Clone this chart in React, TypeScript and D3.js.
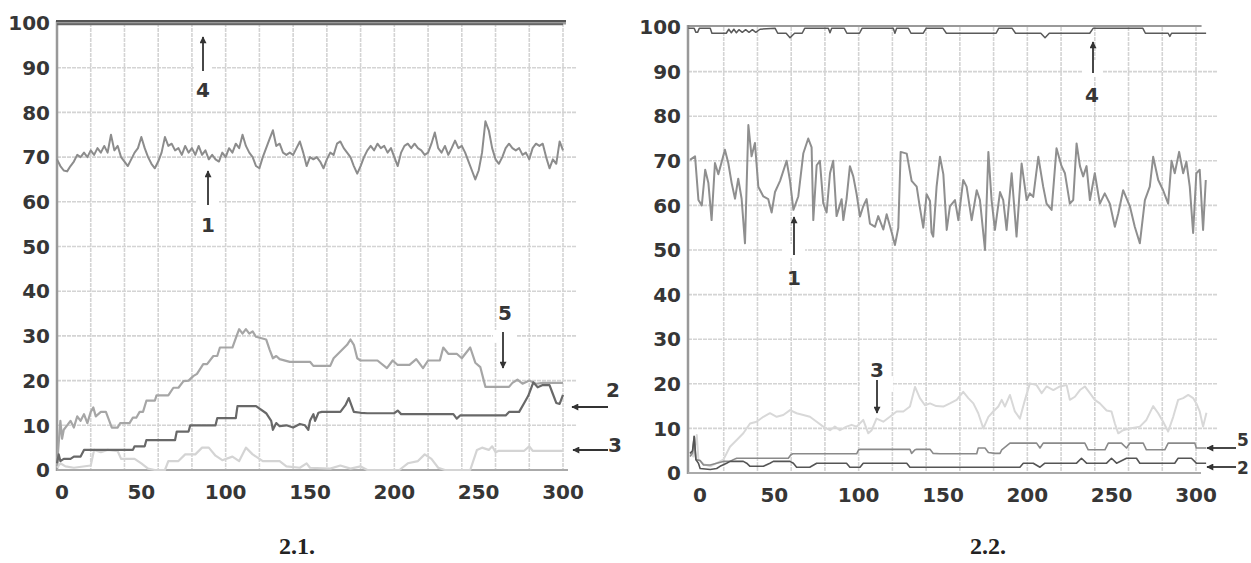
import React from 'react';
import * as d3 from 'd3';

// ---------- Panel 2.1 data ----------
const L1_T = d3.range(0, 301, 2);
const L1_V = [
  69.5, 68, 67, 66.8, 68, 69, 70.5, 70, 71, 70, 71.5, 70.5, 72, 71, 72.5, 71, 75, 71.5, 72.5, 70,
  69, 68, 69.5, 71, 72, 74.5, 72, 70, 68.5, 67.5, 69, 71, 74.5, 72.5, 73, 71.5, 72, 70.5, 72.5, 71,
  72, 70.5, 72.5, 70.5, 71.5, 69.5, 70.5, 69.5, 69, 71, 70, 72, 71, 73, 72, 75, 72.5, 71, 70, 68,
  67.5, 70, 72, 74, 76, 72.5, 73, 71, 70.5, 71, 70.5, 72, 73.5, 71, 68, 70, 69.5, 70, 69, 67.5,
  69.5, 71, 70.5, 73, 73.5, 72, 71, 70, 68, 66.3, 68, 70, 71.5, 72.5, 71.5, 73, 72, 72.5, 71, 72,
  70, 68, 71, 72.5, 73, 72, 73, 72, 71.5, 70.5, 71, 73, 75.5, 72, 71, 72.5, 70.5, 72, 73.7, 72,
  72.5, 71, 69, 67, 65, 67, 71, 78, 76, 72, 69.5, 68.5, 70, 72, 73, 72, 71.5, 72, 70.5, 71,
  69.5, 72, 73, 72.5, 73, 70, 67.5, 69.5, 68.5, 73.5, 71.5,
];

const L5_T = [0, 1, 2, 3, 4, 6, 8, 10, 12, 14, 16, 18, 20, 21.5, 23, 26, 29, 31, 32.5, 36, 37.5, 43, 45, 47, 49, 51, 53, 58, 59, 66, 69, 72, 75, 78, 80.8, 83, 86.7, 89, 92.7, 95, 96.6, 104, 106.5, 108, 110, 112, 114, 116, 118, 124, 126, 128, 130, 132, 138, 150, 152, 162, 164, 168, 172, 174, 176, 178, 180, 190, 195.6, 199, 202, 209, 213, 217, 220, 227, 229, 232, 237, 240, 245, 248, 251, 254, 268, 270, 273, 276, 280, 284, 288, 300];
const L5_V = [1, 6, 11, 7, 9, 10, 11, 9.5, 12, 11, 12.5, 10.5, 13, 14, 12, 13, 13, 11, 9.5, 9.5, 10.5, 10.5, 11.7, 11.7, 13, 13, 15.5, 15.5, 16.7, 16.7, 18.4, 18.4, 19.9, 20, 21, 21.5, 23.7, 23.7, 25.5, 25.5, 27.4, 27.4, 30, 31.5, 30.5, 31.5, 30.5, 31, 29.8, 29.2, 27, 25, 25.5, 24.8, 24.2, 24.2, 23.3, 23.3, 25, 26.5, 28, 29.2, 28, 25, 24.5, 24.5, 22.8, 24.5, 23.5, 23.5, 24.8, 22.8, 24.5, 24.5, 27.4, 26, 26, 25, 27.4, 24, 23, 18.6, 18.6, 19.5, 20.2, 19.3, 20, 19.3, 19.5, 19.5];

const L2_T = [0, 1, 2, 4, 8, 10, 14, 16, 45, 46, 52, 53, 70, 71, 78, 79, 94, 95, 106, 107, 118, 124, 127, 128, 130, 132, 136, 140, 144, 147, 149, 150, 152, 153, 155, 157, 168, 171, 173, 176, 180, 184, 200, 202, 204, 235, 237, 239, 266, 268, 274, 277, 279.4, 282.4, 285, 288, 292, 294, 296, 298, 300];
const L2_V = [1.5, 3.5, 2, 2.5, 2.5, 3, 3, 4.5, 4.5, 5.3, 5.3, 6.7, 6.7, 8.6, 8.6, 10, 10, 11.6, 11.6, 14.3, 14.3, 12.7, 11, 9, 10.5, 9.8, 10, 9.5, 10.3, 10, 9, 11, 12.5, 11, 12.8, 13, 13, 14.5, 16.1, 13, 12.8, 12.7, 12.7, 13.3, 12.5, 12.5, 11.5, 12.2, 12.2, 13, 13, 15, 16.6, 19.6, 18.5, 19, 19, 17, 15, 14.8, 16.8];

const L3_T = [0, 2, 5, 10, 20, 22, 26, 30, 36, 38, 46, 50, 54, 58, 64, 66, 72, 76, 82, 86, 90, 94, 98, 104, 108, 112, 116, 122, 132, 136, 144, 148, 150, 162, 168, 174, 180, 184, 203, 208, 214, 218, 222, 226, 230, 245, 249, 252, 256, 258, 260, 262, 277, 280, 282, 300];
const L3_V = [0.5, 1.5, 0.8, 0.5, 1, 4.5, 4, 4.5, 4.2, 2.5, 2.5, 1.5, 0.3, 0, 0, 2, 2, 3.5, 3.5, 5, 5, 3.2, 2.2, 3, 2, 5, 3.5, 2, 2, 0.8, 0.5, 1.5, 0.5, 0.3, 1, 0.3, 0.8, 0, 0, 1.5, 2, 3.5, 2.5, 0.5, 0, 0, 4.5, 5, 4.5, 5.3, 4, 4.3, 4.3, 5.3, 4.3, 4.3];

const L4_T = [0, 300];
const L4_V = [99.7, 99.7];

// ---------- Panel 2.2 data ----------
const R1_T = [0, 3, 5, 7, 9, 10.9, 12.8, 14.8, 16.8, 20.7, 22.7, 24.7, 26.7, 28.6, 30.6, 32.6, 34.6, 36.5, 38.5, 40.5, 43.5, 46.4, 48.4, 50.4, 53.4, 57.3, 59.3, 61.3, 64.2, 67.2, 70.1, 72.1, 73.1, 75.1, 77, 79, 81, 83, 84.9, 86.9, 89.9, 90.9, 92.8, 94.8, 96.8, 98.8, 100.8, 102.7, 104.7, 106.7, 109.7, 111.6, 114.6, 116.6, 119.6, 121.5, 123.5, 124.9, 128.5, 131.4, 134.4, 136.3, 138.3, 140.3, 142.3, 143.2, 144.2, 146.2, 148.2, 150.2, 152.2, 154.1, 157.1, 159.1, 162, 164, 167, 170, 171.9, 174.9, 176.9, 178.8, 180.8, 183.8, 185.7, 187.7, 190.7, 193.6, 196.6, 199.6, 201.5, 203.5, 206.5, 209.4, 211.4, 214.4, 217.3, 220.3, 222.3, 225.2, 227.2, 229.2, 231.2, 233.1, 235.1, 237.1, 240, 243, 245.9, 248.9, 251.9, 253.9, 256.8, 260.8, 263.7, 266.7, 269.7, 272.6, 274.6, 277.6, 280.5, 283.5, 285.5, 287.4, 290, 292.4, 294.3, 296.3, 298.3, 300.2, 302.2, 304.2, 305.8];
const R1_V = [70.2, 71, 61.2, 60, 68, 65, 56.7, 69.5, 67, 72.5, 69.5, 65, 61.5, 66, 61.5, 51.5, 78, 71, 74, 64.2, 62, 61.4, 58.4, 63, 65.5, 70, 65.5, 59, 62, 71.7, 75, 73, 56.7, 69, 70, 60.5, 58.4, 67.2, 70, 57.6, 61.4, 56.7, 61.4, 68.8, 66.5, 62.5, 57.5, 59.8, 61.4, 55.9, 55.2, 57.6, 54.6, 58, 53.9, 51.1, 55, 72, 71.6, 65.5, 64.2, 59.5, 55, 62.5, 61, 53.9, 53, 64.2, 70.9, 67, 54.5, 59.8, 61.2, 56.7, 65.7, 64.2, 56.7, 63.4, 61.2, 50, 72, 61.2, 54.5, 63, 61.2, 54.5, 67.2, 53, 69.4, 61.2, 62.7, 61.9, 70.9, 64.2, 60.4, 59, 72.8, 68.8, 67.2, 60.4, 61.2, 73.9, 68.8, 66.5, 68.8, 61.2, 67.2, 60.4, 62.7, 60.4, 55.2, 58.2, 63.4, 59.8, 55.2, 51.5, 61.2, 64.2, 70.9, 65.7, 63.4, 60.4, 70, 67.2, 72, 67.2, 69.8, 64.2, 53.8, 67.2, 68, 54.5, 65.7];

const R3_T = [0, 2, 4, 5, 8, 12, 15.8, 19.8, 23.7, 27.7, 31.6, 35.6, 39.5, 43.5, 47.4, 51.4, 55.3, 59.3, 63.2, 67.2, 71.1, 75.1, 79, 83, 85.9, 88.9, 92.8, 95.8, 98.8, 102.7, 105.7, 107.7, 110.6, 114.6, 118.5, 122.5, 126.5, 130.4, 133.4, 136.3, 139.3, 142.3, 146, 150.2, 154.1, 158.1, 162, 165, 168, 170.9, 173.9, 176.9, 179.8, 182.8, 184.8, 186.7, 189.7, 192.6, 195.6, 198.6, 201.5, 205.5, 208.5, 211.4, 215.4, 219.3, 223.3, 225.2, 228.2, 231.2, 234.1, 237.1, 240, 243, 247, 249.9, 251.9, 253.9, 256.8, 260.8, 266.7, 270.6, 274.6, 277.6, 280.5, 283.5, 286.5, 289.4, 292.4, 295.4, 298.3, 300.2, 302.2, 304.2, 306.2];
const R3_V = [4.5, 3.7, 8.5, 3, 2, 1.5, 2.2, 3, 5.9, 7.4, 8.9, 11.1, 11.5, 12.6, 13.4, 12.6, 13, 14.1, 13.4, 13, 12.6, 11.5, 10.4, 9.6, 10.4, 9.6, 10.4, 10.8, 10.4, 11.9, 8.9, 9.6, 12.2, 11.5, 12.6, 13.8, 13.8, 14.9, 19.3, 16.8, 15.2, 15.6, 15, 14.9, 15.6, 16.4, 18.2, 16.8, 15.6, 13.4, 10, 12.6, 13.8, 14.9, 16.4, 14.9, 17.5, 13.8, 12.2, 16.4, 20.1, 19.7, 17.9, 19.4, 18.6, 19.4, 19.7, 16.4, 17.1, 18.6, 19.4, 17.9, 16.4, 15.6, 14, 13.8, 11.1, 8.9, 9.6, 10, 10.4, 11.9, 15, 13.4, 11.5, 9.3, 12.6, 16.4, 16.8, 17.5, 16.8, 15.6, 13.8, 10.4, 13.5];

const R5_T = [0, 1.5, 2.5, 3.5, 6, 8, 12, 15.8, 19.8, 23.7, 25.7, 27.7, 58.3, 59.8, 61, 98.8, 100, 101, 130.4, 131.4, 133.4, 134.4, 142.3, 144.2, 148.2, 170, 170.9, 174.9, 176.9, 180.8, 183.8, 184.8, 189.7, 205.5, 207.5, 209.4, 234.1, 236.1, 246, 248, 255.8, 258.8, 260.8, 268.7, 270.6, 281.5, 283.5, 299.3, 300.2, 306];
const R5_V = [3.7, 4.5, 8.2, 3, 2.8, 1.8, 1.8, 2.2, 2.6, 2.6, 3, 3.3, 3.3, 4.1, 4.3, 4.3, 5.2, 5.3, 5.3, 4.4, 5.2, 5.3, 5.3, 4.4, 4.3, 4.3, 5.6, 5.6, 4.6, 4.4, 4.4, 5.2, 6.7, 6.7, 5.6, 6.7, 6.7, 5.2, 5.2, 6.7, 6.7, 5.6, 6.7, 6.7, 5.2, 5.2, 6.7, 6.7, 5.6, 5.6];

const R2_T = [0, 1.5, 2.5, 3.5, 5, 6, 12, 15.8, 17.8, 21.7, 23.7, 31.6, 33.6, 35.6, 43.5, 47.4, 49.4, 59.3, 61.3, 63.2, 71, 75.1, 92.8, 94.8, 100.8, 102.7, 128.5, 130.4, 195.6, 197.6, 203.5, 207.5, 210.4, 229.2, 232.1, 235.1, 247, 249.9, 252.9, 258.8, 264.7, 266.7, 287.4, 289.4, 297.3, 300.2, 306];
const R2_V = [4.4, 5, 8.2, 3, 2.2, 1, 0.8, 1, 1.5, 2.2, 2.6, 2.6, 2.2, 1.5, 1.5, 2.2, 2.6, 2.6, 2.2, 1.3, 1.3, 2.2, 2.2, 1.3, 1.3, 2.2, 2.2, 1.3, 1.3, 2.2, 2.2, 1.3, 2.2, 2.2, 3.3, 2.2, 2.2, 3.3, 2.2, 3.3, 3.3, 2.2, 2.2, 3.3, 3.3, 2.2, 2.2];

const R4_T = [-1, 2.5, 3.5, 4.5, 5.5, 12, 13, 21.5, 23, 24.5, 26, 27.5, 29, 31, 33, 35, 37, 39, 41.5, 50.5, 52, 57, 59.3, 62, 66.5, 68, 82, 83, 84, 91.5, 93, 100.5, 102, 120.5, 121.5, 122.5, 129.5, 131, 138.3, 140, 150, 152, 181.5, 183, 191, 193, 208, 210.5, 213, 237, 239, 268.5, 270, 283.5, 284.5, 285.5, 306];
const R4_V = [99.7, 99.7, 98.8, 98.8, 99.7, 99.7, 98.6, 98.6, 99.5, 98.7, 99.5, 98.7, 99.4, 98.8, 99.4, 98.8, 99.4, 98.8, 99.5, 99.7, 98.6, 98.6, 97.6, 98.6, 98.6, 99.7, 99.7, 98.7, 99.7, 99.7, 98.6, 98.6, 99.7, 99.7, 98.6, 99.7, 99.7, 98.6, 98.6, 99.7, 99.7, 98.6, 98.6, 99.7, 99.7, 98.6, 98.6, 97.6, 98.6, 98.6, 99.7, 99.7, 98.6, 98.6, 97.9, 98.6, 98.6];
const R4TOP_T = [-1, 303.3];
const R4TOP_V = [100.2, 100.2];

const CAPTIONS = ['2.1.', '2.2.'];

type Pt = [number, number];
const zip = (t: number[], v: number[]): Pt[] => t.map((x, i) => [x, v[i]]);

const FONT = "'DejaVu Sans', Verdana, sans-serif";
const SERIF = "'Liberation Serif', 'Times New Roman', serif";

interface SeriesDef { pts: Pt[]; color: string; width: number }
interface Ann { label: string; x1: number; y1: number; x2: number; y2: number; tx: number; ty: number; anchor?: string; size?: number; mask?: [number, number, number, number] }

interface PanelProps {
  x0: number; x300: number; yTop: number; yBot: number;
  axisX: number; gridRight: number;
  series: SeriesDef[];
  zeroDx: number;
  anns: Ann[];
  topFrame: React.ReactNode;
}

function Panel(p: PanelProps) {
  const x = d3.scaleLinear().domain([0, 300]).range([p.x0, p.x300]);
  const y = d3.scaleLinear().domain([0, 100]).range([p.yBot, p.yTop]);
  const line = d3.line<Pt>().x(d => x(d[0])).y(d => y(d[1]));
  const grid = x.ticks(12).filter(v => v > 0);
  const yt = y.ticks(10);
  const xt = x.ticks(6);
  return (
    <g>
      {yt.filter(v => v > 0 && v < 100).map(v => (
        <line key={'h' + v} x1={p.axisX} x2={p.gridRight} y1={y(v)} y2={y(v)} stroke="#d4d4d4" strokeWidth={1.6} strokeDasharray="4 1" />
      ))}
      {grid.map(v => (
        <line key={'v' + v} x1={x(v)} x2={x(v)} y1={y(100)} y2={y(0)} stroke="#d4d4d4" strokeWidth={1.6} strokeDasharray="4 1" />
      ))}
      {p.anns.filter(a => a.mask).map((a, i) => (
        <rect key={'m' + i} x={a.mask![0]} y={a.mask![1]} width={a.mask![2]} height={a.mask![3]} fill="#fff" />
      ))}
      <line x1={p.axisX} x2={p.axisX} y1={y(100) - 2} y2={y(0) + 1} stroke="#999" strokeWidth={2.5} />
      <line x1={p.axisX} x2={p.x300 + 5} y1={y(0)} y2={y(0)} stroke="#aaa" strokeWidth={2} />
      {p.topFrame}
      {p.series.map((s, i) => (
        <path key={'s' + i} d={line(s.pts) || ''} fill="none" stroke={s.color} strokeWidth={s.width} strokeLinejoin="round" />
      ))}
      {yt.map(v => (
        <text key={'yl' + v} x={p.axisX - 7} y={y(v)} dy="0.36em" textAnchor="end" fontFamily={FONT} fontWeight="bold" fontSize={20} fill="#363636">{v}</text>
      ))}
      {xt.map(v => (
        <text key={'xl' + v} x={x(v) + (v === 0 ? p.zeroDx : 0)} y={p.yBot + 22} dy="0.36em" textAnchor="middle" fontFamily={FONT} fontWeight="bold" fontSize={20} fill="#363636">{v}</text>
      ))}
      {p.anns.map((a, i) => (
        <g key={'a' + i}>
          <line x1={a.x1} y1={a.y1} x2={a.x2} y2={a.y2} stroke="#333" strokeWidth={1.8} markerEnd="url(#ah)" />
          <text x={a.tx} y={a.ty} textAnchor={(a.anchor as any) || 'middle'} fontFamily={FONT} fontWeight="bold" fontSize={a.size || 20} fill="#363636">{a.label}</text>
        </g>
      ))}
    </g>
  );
}

export default function App() {
  const leftSeries: SeriesDef[] = [
    { pts: zip(L3_T, L3_V), color: '#d4d4d4', width: 2.2 },
    { pts: zip(L5_T, L5_V), color: '#a6a6a6', width: 2.2 },
    { pts: zip(L2_T, L2_V), color: '#686868', width: 2.2 },
    { pts: zip(L1_T, L1_V), color: '#8c8c8c', width: 2 },
    { pts: zip(L4_T, L4_V), color: '#666', width: 2 },
  ];
  const rightSeries: SeriesDef[] = [
    { pts: zip(R3_T, R3_V), color: '#d8d8d8', width: 2 },
    { pts: zip(R5_T, R5_V), color: '#8a8a8a', width: 1.6 },
    { pts: zip(R2_T, R2_V), color: '#555', width: 1.6 },
    { pts: zip(R1_T, R1_V), color: '#8f8f8f', width: 2 },
    { pts: zip(R4_T, R4_V), color: '#5a5a5a', width: 1.5 },
    { pts: zip(R4TOP_T, R4TOP_V), color: '#777', width: 1.5 },
  ];
  const leftAnns: Ann[] = [
    { label: '4', x1: 203, y1: 71, x2: 203, y2: 37, tx: 203, ty: 97, mask: [194, 60, 18, 16] },
    { label: '1', x1: 208, y1: 205, x2: 208, y2: 171, tx: 208, ty: 232, mask: [197, 195, 22, 14] },
    { label: '5', x1: 503, y1: 332, x2: 503, y2: 368, tx: 505, ty: 320, mask: [493, 330, 24, 12] },
    { label: '2', x1: 608, y1: 407, x2: 572, y2: 407, tx: 606, ty: 397, anchor: 'start' },
    { label: '3', x1: 608, y1: 450, x2: 573, y2: 450, tx: 608, ty: 452, anchor: 'start' },
  ];
  const rightAnns: Ann[] = [
    { label: '4', x1: 1093, y1: 73, x2: 1093, y2: 42, tx: 1092, ty: 102, mask: [1083, 60, 20, 16] },
    { label: '1', x1: 794, y1: 255, x2: 794, y2: 217, tx: 794, ty: 285, mask: [782, 244, 23, 14] },
    { label: '3', x1: 877, y1: 380, x2: 877, y2: 413, tx: 877, ty: 377, mask: [860, 377, 33, 14] },
    { label: '5', x1: 1236, y1: 448, x2: 1207, y2: 448, tx: 1237, ty: 446, anchor: 'start', size: 17 },
    { label: '2', x1: 1236, y1: 467, x2: 1207, y2: 467, tx: 1237, ty: 474, anchor: 'start', size: 17 },
  ];

  return (
    <svg width={1251} height={563} style={{ position: 'absolute', left: 0, top: 0, display: 'block', background: '#fff' }}>
      <defs>
        <marker id="ah" viewBox="0 0 10 10" refX="9" refY="5" markerWidth="8" markerHeight="7" markerUnits="userSpaceOnUse" orient="auto">
          <path d="M0,0 L10,5 L0,10 z" fill="#333" />
        </marker>
      </defs>
      <rect x={0} y={0} width={1251} height={563} fill="#fff" />
      <Panel
        x0={57} x300={563} yTop={23} yBot={470}
        axisX={57} gridRight={577}
        series={leftSeries} zeroDx={5} anns={leftAnns}
        topFrame={<g>
          <rect x={56} y={20.5} width={510} height={4} fill="#9a9a9a" />
          <line x1={56} x2={566} y1={21} y2={21} stroke="#555" strokeWidth={1.8} />
        </g>}
      />
      <Panel
        x0={690} x300={1196} yTop={27} yBot={473}
        axisX={688} gridRight={1217}
        series={rightSeries} zeroDx={10} anns={rightAnns}
        topFrame={null}
      />
      <text x={297} y={554} textAnchor="middle" fontFamily={SERIF} fontWeight="bold" fontSize={24} fill="#222">{CAPTIONS[0]}</text>
      <text x={988} y={554} textAnchor="middle" fontFamily={SERIF} fontWeight="bold" fontSize={24} fill="#222">{CAPTIONS[1]}</text>
    </svg>
  );
}
